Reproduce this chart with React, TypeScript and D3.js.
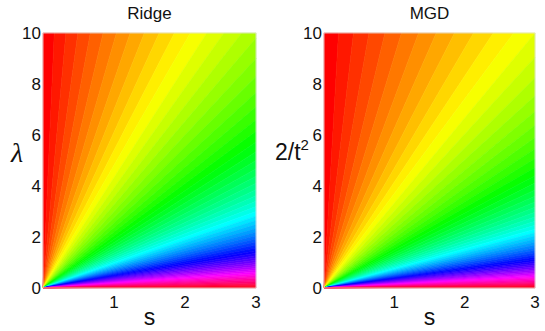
import React from "react";
import * as d3 from "d3";

// ---- data ----
const panelTitles = ["Ridge", "MGD"];
const panelYLabels = ["λ", "2/t"];
// ratio scale of s/λ at which each shrinkage level is reached
const panelRatioScale = [1.0, 1.3];
const sDomain = [0, 3];
const lambdaDomain = [0, 10];
const xTicks = [1, 2, 3];
const yTicks = [0, 2, 4, 6, 8, 10];
const levelCount = 64;

const panelLeft = [43, 324];
const panelRight = [256, 535];
const top = 33;
const bottom = 288;

function Panel({ idx }: { idx: number }) {
  const x = d3.scaleLinear().domain(sDomain).range([panelLeft[idx], panelRight[idx]]);
  const y = d3.scaleLinear().domain(lambdaDomain).range([bottom, top]);
  const c = panelRatioScale[idx];
  const sMax = sDomain[1];
  const lMax = lambdaDomain[1];

  // ray endpoint for level f (z = s/λ = c f/(1-f))
  const endpoint = (f: number): [number, number] => {
    if (f >= 1) return [sMax, 0];
    const z = (c * f) / (1 - f);
    if (z * lMax <= sMax) return [z * lMax, lMax];
    return [sMax, sMax / z];
  };

  const line = d3
    .line<[number, number]>()
    .x((d) => x(d[0]))
    .y((d) => y(d[1]));

  const bands = d3.range(levelCount).map((k) => {
    const f0 = k / levelCount;
    const f1 = (k + 1) / levelCount;
    const a = endpoint(f0);
    const b = endpoint(f1);
    const pts: [number, number][] = [[0, 0], a];
    if (a[1] === lMax && b[0] === sMax && b[1] < lMax) pts.push([sMax, lMax]);
    pts.push(b);
    const color = d3.hsl((k / levelCount) * 360, 1, 0.5).formatHex();
    return { d: line(pts) + "Z", color };
  });

  const font = "'Liberation Sans', Arial, sans-serif";
  const cx = (panelLeft[idx] + panelRight[idx]) / 2;

  return (
    <g>
      {bands.map((b, i) => (
        <path key={i} d={b.d} fill={b.color} stroke={b.color} strokeWidth={0.6} strokeLinejoin="round" />
      ))}
      <rect
        x={panelLeft[idx]}
        y={top}
        width={panelRight[idx] - panelLeft[idx]}
        height={bottom - top}
        fill="none"
        stroke="#e2e2e2"
        strokeWidth={0.8}
      />
      <text x={cx} y={19} textAnchor="middle" fontFamily={font} fontSize={17} fill="#111">
        {panelTitles[idx]}
      </text>
      {yTicks.map((t) => (
        <text
          key={"y" + t}
          x={panelLeft[idx] - 2}
          y={y(t) + 6}
          textAnchor="end"
          fontFamily={font}
          fontSize={17}
          fill="#111"
        >
          {t}
        </text>
      ))}
      {xTicks.map((t) => (
        <text key={"x" + t} x={x(t)} y={308} textAnchor="middle" fontFamily={font} fontSize={17} fill="#111">
          {t}
        </text>
      ))}
      <text x={cx} y={325} textAnchor="middle" fontFamily={font} fontSize={23} fill="#111">
        s
      </text>
      {idx === 0 ? (
        <text x={11} y={162} fontFamily="'Liberation Serif', 'DejaVu Serif', serif" fontStyle="italic" fontSize={28} fill="#111">
          {panelYLabels[idx]}
        </text>
      ) : (
        <text x={275} y={160} fontFamily={font} fontSize={23} fill="#111">
          {panelYLabels[idx]}
          <tspan fontSize={15} dy={-10}>2</tspan>
        </text>
      )}
    </g>
  );
}

export default function App() {
  return (
    <svg width={545} height={331} style={{ position: "absolute", left: 0, top: 0, background: "#fff" }}>
      <rect width={545} height={331} fill="#fff" />
      {panelTitles.map((_, i) => (
        <Panel key={i} idx={i} />
      ))}
    </svg>
  );
}
